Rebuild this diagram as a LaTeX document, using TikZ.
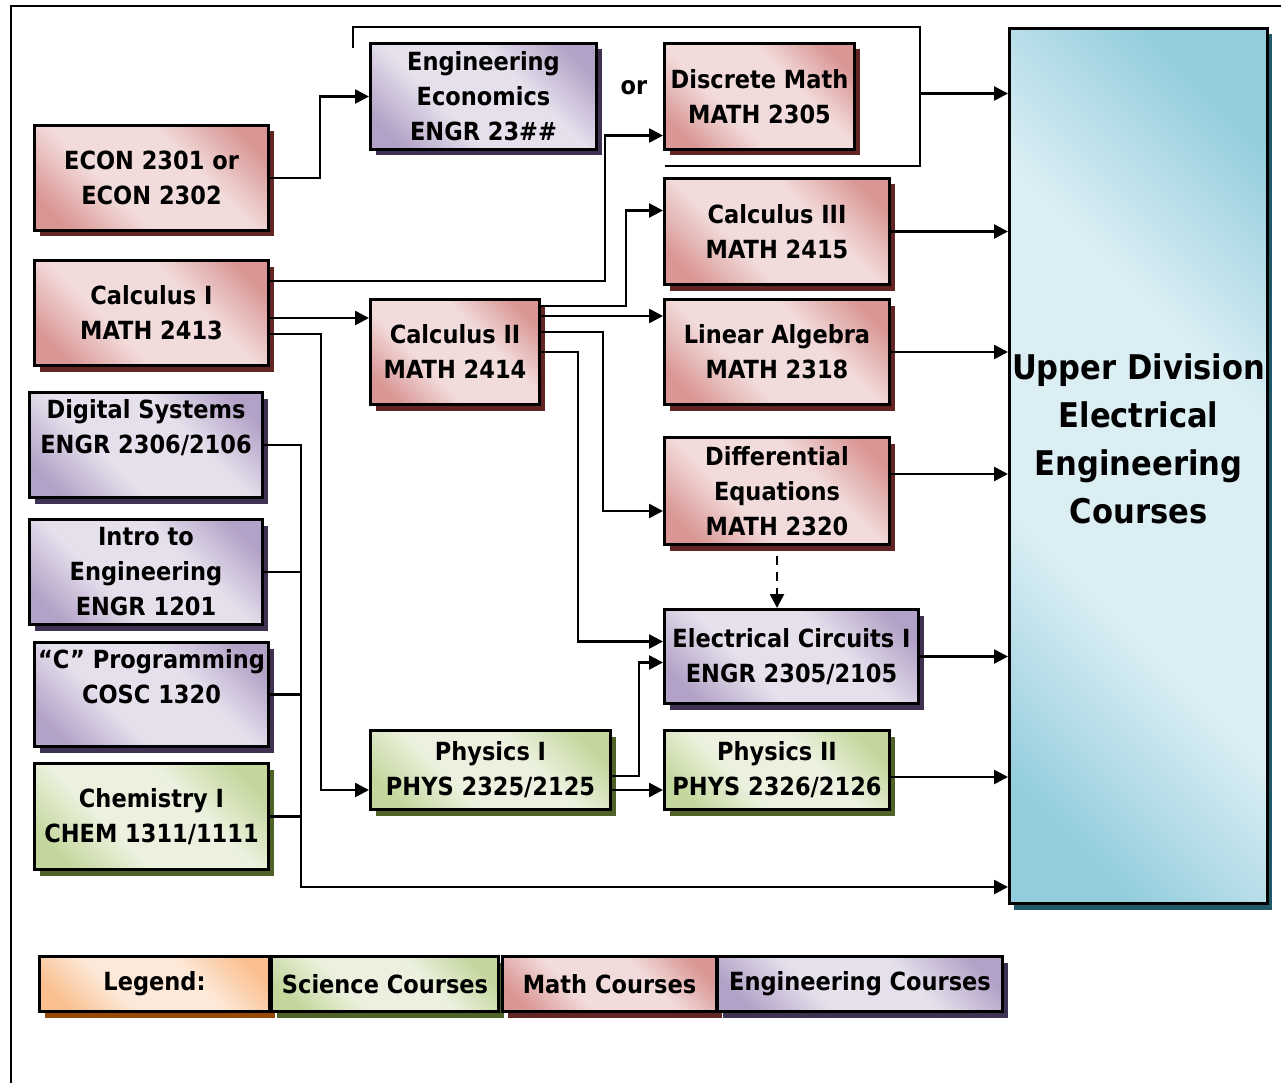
\documentclass[tikz,border=0pt]{standalone}
\usepackage{fontspec}
\setmainfont{DejaVu Sans}[FakeStretch=0.9]
\usepackage{tikz}
\usetikzlibrary{
  arrows.meta,
  positioning,
  shadows,
}
\definecolor{mathlight}{HTML}{F2DCDB}
\definecolor{mathdark}{HTML}{D99694}
\definecolor{mathshadow}{HTML}{632523}
\definecolor{englight}{HTML}{E5E0EC}
\definecolor{engdark}{HTML}{B3A2C7}
\definecolor{engshadow}{HTML}{3F3151}
\definecolor{scilight}{HTML}{EBF1DE}
\definecolor{scidark}{HTML}{C3D69B}
\definecolor{scishadow}{HTML}{4F6228}
\definecolor{leglight}{HTML}{FDE9D9}
\definecolor{legdark}{HTML}{FAC090}
\definecolor{legshadow}{HTML}{984807}
\definecolor{udlight}{HTML}{DBEEF4}
\definecolor{uddark}{HTML}{93CDDD}
\definecolor{udshadow}{HTML}{215968}
\colorlet{shdark}{mathdark}
\colorlet{shlight}{mathlight}
% diagonal band: dark corners, wide light middle
\pgfdeclareverticalshading[shdark,shlight]{band}{100bp}{
  color(0bp)=(shdark); color(22bp)=(shdark); color(39bp)=(shlight);
  color(61bp)=(shlight); color(78bp)=(shdark); color(100bp)=(shdark)}

\begin{document}
\begin{tikzpicture}[
  x=1pt, y=-1pt,
  box/.style={rectangle, draw, line width=3pt, anchor=north west, align=center, inner sep=2pt, font=\fontsize{25}{35}\selectfont\bfseries, shade, shading=band, shading angle=-45},
  mathc/.style={box, /utils/exec={\colorlet{shdark}{mathdark}\colorlet{shlight}{mathlight}}, drop shadow={shadow xshift=5pt, shadow yshift=-6pt, fill=mathshadow, opacity=1}},
  engc/.style={box, /utils/exec={\colorlet{shdark}{engdark}\colorlet{shlight}{englight}}, drop shadow={shadow xshift=5pt, shadow yshift=-6pt, fill=engshadow, opacity=1}},
  scic/.style={box, /utils/exec={\colorlet{shdark}{scidark}\colorlet{shlight}{scilight}}, drop shadow={shadow xshift=5pt, shadow yshift=-6pt, fill=scishadow, opacity=1}},
  legc/.style={box, /utils/exec={\colorlet{shdark}{legdark}\colorlet{shlight}{leglight}}, drop shadow={shadow xshift=5pt, shadow yshift=-6pt, fill=legshadow, opacity=1}},
  upper/.style={box, /utils/exec={\colorlet{shdark}{uddark}\colorlet{shlight}{udlight}}, font=\fontsize{34}{48}\selectfont\bfseries, drop shadow={shadow xshift=4pt, shadow yshift=-6pt, fill=udshadow, opacity=1}},
  arr/.style={-{Triangle[length=14pt, width=14pt]}, line width=2.6pt},
  darr/.style={arr, dash pattern=on 9pt off 7pt},
  wire/.style={line width=2.6pt},
]
  \useasboundingbox (0,0) rectangle (1281,1083);
  \draw[line width=2.5pt] (11,1083) |- (1281,6);

  % Target
  \node[upper, minimum width=258pt, minimum height=875pt] (updiv) at (1008,27) {Upper Division\\Electrical\\Engineering\\Courses\\[-8pt] \strut};

  % First column
  \node[mathc, minimum width=234pt, minimum height=105pt] (econ) at (33,124) {ECON 2301 or\\ECON 2302};
  \node[mathc, minimum width=234pt, minimum height=105pt] (calc1) at (33,259) {Calculus I\\MATH 2413};
  \node[engc, minimum width=233pt, minimum height=105pt] (digital) at (28,391) {Digital Systems\\ENGR 2306/2106\\[-9pt] \strut};
  \node[engc, minimum width=233pt, minimum height=105pt] (intro) at (28,518) {Intro to\\Engineering\\ENGR 1201};
  \node[engc, minimum width=234pt, minimum height=104pt] (cprog) at (33,641) {“C” Programming\\COSC 1320\\[-9pt] \strut};
  \node[scic, minimum width=234pt, minimum height=106pt] (chem) at (33,762) {Chemistry I\\CHEM 1311/1111};

  % Second column
  \node[engc, minimum width=226pt, minimum height=106pt] (engecon) at (369,42) {Engineering\\Economics\\ENGR 23\#\#};
  \node[mathc, minimum width=169pt, minimum height=105pt] (calc2) at (369,298) {Calculus II\\MATH 2414};
  \node[scic, minimum width=240pt, minimum height=79pt] (phys1) at (369,729) {Physics I\\PHYS 2325/2125};
  \node[font=\fontsize{25}{35}\selectfont\bfseries] (ortext) at (634,88) {or};

  % Third column
  \node[mathc, minimum width=190pt, minimum height=106pt] (discrete) at (663,42) {Discrete Math\\MATH 2305};
  \node[mathc, minimum width=225pt, minimum height=106pt] (calc3) at (663,177) {Calculus III\\MATH 2415};
  \node[mathc, minimum width=225pt, minimum height=105pt] (linalg) at (663,298) {Linear Algebra\\MATH 2318};
  \node[mathc, minimum width=225pt, minimum height=107pt] (diffeq) at (663,436) {Differential\\Equations\\MATH 2320};
  \node[engc, minimum width=254pt, minimum height=94pt] (elec) at (663,608) {Electrical Circuits I\\ENGR 2305/2105};
  \node[scic, minimum width=225pt, minimum height=79pt] (phys2) at (663,729) {Physics II\\PHYS 2326/2126};

  % Legend
  \node[legc, minimum width=230pt, minimum height=55pt] (leg) at (38,955) {Legend:};
  \node[scic, minimum width=227pt, minimum height=55pt] (legsci) at (270,955) {Science Courses};
  \node[mathc, minimum width=214pt, minimum height=55pt] (legmath) at (501,955) {Math Courses};
  \node[engc, minimum width=285pt, minimum height=55pt] (legeng) at (716,955) {Engineering Courses};

  % Arrows
  \draw[arr] (econ.east) -- ++(50,0) |- (engecon.west);
  \draw[arr] ([yshift=-22pt]calc1.north east) -- ++(335,0) |- ([yshift=-39pt]discrete.west);
  \draw[arr] ([yshift=-5pt]calc1.east) -- ([yshift=-5pt]calc1.east -| calc2.west);
  \draw[arr] ([yshift=-21pt]calc1.east) -- ++(51,0) |- ([yshift=-20pt]phys1.west);

  \draw[arr] ([yshift=-8pt]calc2.north east) -- ++(85,0) |- ([yshift=21pt]calc3.west);
  \draw[arr] ([yshift=-18pt]calc2.north east) -- ([yshift=-18pt]calc2.north east -| linalg.west);
  \draw[arr] ([yshift=-34pt]calc2.north east) -- ++(62,0) |- ([yshift=-20pt]diffeq.west);
  \draw[arr] (calc2.east) -- ++(37,0) |- ([yshift=15pt]elec.west);
  \draw[darr] ([yshift=-10pt]diffeq.south) -- (diffeq.south |- elec.north);

  \draw[arr] ([yshift=-6pt]phys1.east) -- ++(27,0) |- ([yshift=-6pt]elec.west);
  \draw[arr] ([yshift=-20pt]phys1.east) -- ([yshift=-20pt]phys1.east -| phys2.west);

  % "or" bracket
  \draw[wire] ([xshift=-16pt, yshift=-6pt]engecon.north west) |- ([xshift=64pt, yshift=15pt]discrete.north east) |- ([xshift=2pt, yshift=-15pt]discrete.south west);

  % Into upper division
  \draw[arr] ([xshift=64pt, yshift=3pt]discrete.east) -- ([yshift=3pt]discrete.east -| updiv.west);
  \draw[arr] (calc3.east) -- (calc3.east -| updiv.west);
  \draw[arr] (linalg.east) -- (linalg.east -| updiv.west);
  \draw[arr] ([yshift=17pt]diffeq.east) -- ([yshift=17pt]diffeq.east -| updiv.west);
  \draw[arr] (elec.east) -- (elec.east -| updiv.west);
  \draw[arr] ([yshift=-7pt]phys2.east) -- ([yshift=-7pt]phys2.east -| updiv.west);

  % Bus from first year courses
  \coordinate (bus) at (301,887);
  \draw[arr] (digital.east) -| (bus) -- (bus -| updiv.west);
  \draw[wire] (intro.east) -- (intro.east -| bus);
  \draw[wire] (cprog.east) -- (cprog.east -| bus);
  \draw[wire] (chem.east) -- (chem.east -| bus);

\end{tikzpicture}
\end{document}
